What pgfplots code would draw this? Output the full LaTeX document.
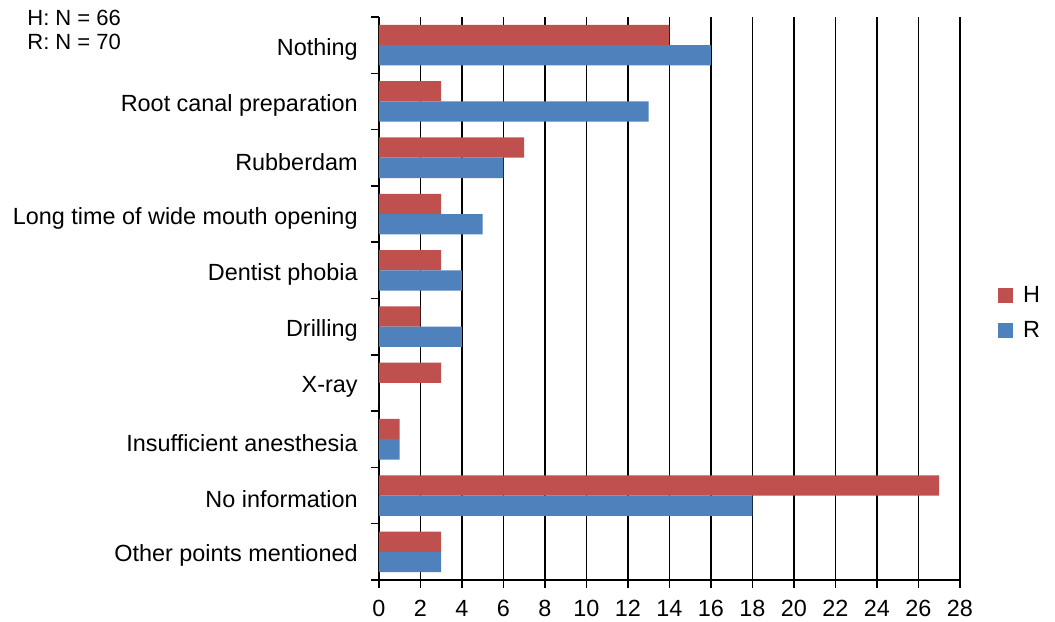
\documentclass[border=0pt]{standalone}
\usepackage{fontspec}
\setmainfont{Liberation Sans}
\usepackage{pgfplots}
\pgfplotsset{compat=1.18}
\definecolor{cH}{HTML}{C0504D}
\definecolor{cR}{HTML}{4F81BD}
\begin{document}
\begin{tikzpicture}[font=\fontsize{11.7}{14}\selectfont]
\begin{axis}[
  name=ax,
  scale only axis, width=290.5pt, height=281.5pt,
  xbar, bar width=0.36,
  xmin=0, xmax=28, xtick={0,2,...,28},
  ymin=-0.5, ymax=9.5,
  ytick={0,...,9},
  yticklabels={Other points mentioned, No information, Insufficient anesthesia, X-ray, Drilling, Dentist phobia, Long time of wide mouth opening, Rubberdam, Root canal preparation, Nothing},
  minor ytick={-0.5,0.5,...,9.5},
  axis x line*=bottom, axis y line*=left,
  axis line style={line width=0.75pt, -},
  tick align=outside, major tick length=4pt, minor tick length=4pt,
  every major y tick/.append style={draw=none},
  tick style={black, line width=0.75pt},
  xmajorgrids, grid style={black, line width=0.75pt},
  /pgf/number format/assume math mode=true,
  tick label style={font=\fontsize{11.7}{14}\selectfont},
  yticklabel style={inner sep=0pt, xshift=-6.5pt, yshift=-2pt},
  xticklabel style={yshift=-2.5pt},
  legend style={draw=none, at={(rel axis cs:1.065,0.474)}, anchor=west, font=\fontsize{11.7}{14}\selectfont, row sep=4pt, inner sep=0pt},
  legend cell align=left,
  legend image code/.code={\fill[#1] (0pt,-3.75pt) rectangle (7.5pt,3.75pt); \path (10.5pt,0pt);},
]
\addplot[fill=cH, draw=none, bar shift=0.18] coordinates {
  (3,0) (27,1) (1,2) (3,3) (2,4) (3,5) (3,6) (7,7) (3,8) (14,9)};
\addplot[fill=cR, draw=none, bar shift=-0.18] coordinates {
  (3,0) (18,1) (1,2) (0,3) (4,4) (4,5) (5,6) (6,7) (13,8) (16,9)};
\legend{H, R}
\end{axis}
\node[anchor=north west, align=left, inner sep=0pt, font=\fontsize{11}{12}\selectfont] at ([xshift=-176pt,yshift=3.5pt]ax.north west) {H: N = 66\\R: N = 70};
\pgfresetboundingbox
\path[use as bounding box] ([xshift=-189.5pt,yshift=-21pt]ax.south west) rectangle ([xshift=47.5pt,yshift=8.5pt]ax.north east);
\end{tikzpicture}
\end{document}
